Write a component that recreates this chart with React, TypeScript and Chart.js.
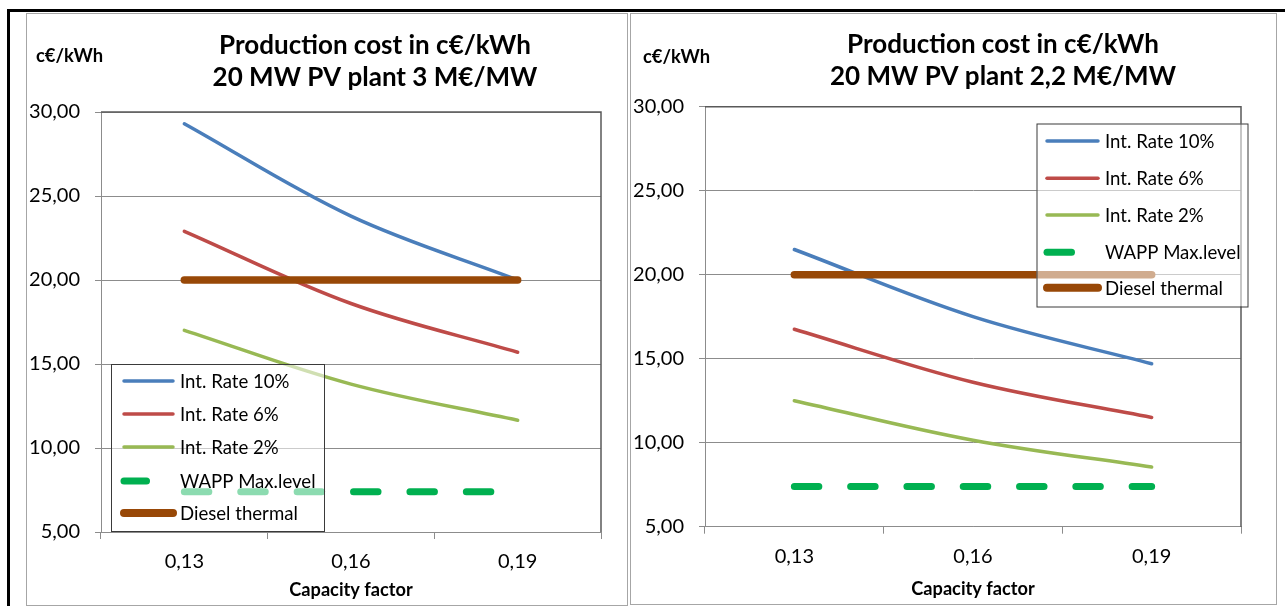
import React, { useEffect, useRef } from 'react';
import { Chart, registerables } from 'chart.js';

Chart.register(...registerables);

const FONT = 'Lato, "Open Sans", "Noto Sans", sans-serif';

// ---------- data ----------
const categories = ['0,13', '0,16', '0,19'];
const seriesNames = ['Int. Rate 10%', 'Int. Rate 6%', 'Int. Rate 2%', 'WAPP Max.level', 'Diesel thermal'];
const seriesColors = ['#4A7EBB', '#BE4B48', '#98B954', '#00B050', '#984807'];
const yTickValues = [5, 10, 15, 20, 25, 30];
const yTickLabels = ['5,00', '10,00', '15,00', '20,00', '25,00', '30,00'];
const xAxisTitle = 'Capacity factor';
const unitLabel = 'c€/kWh';

const leftTitle = ['Production cost in c€/kWh', '20 MW PV plant 3 M€/MW'];
const leftRate10 = [29.3, 23.8, 20.0];
const leftRate6 = [22.9, 18.6, 15.7];
const leftRate2 = [17.0, 13.8, 11.65];
const leftWapp = [7.4, 7.4, 7.4];
const leftDiesel = [20, 20, 20];

const rightTitle = ['Production cost in c€/kWh', '20 MW PV plant 2,2 M€/MW'];
const rightRate10 = [21.5, 17.5, 14.7];
const rightRate6 = [16.75, 13.6, 11.5];
const rightRate2 = [12.5, 10.15, 8.55];
const rightWapp = [7.4, 7.4, 7.4];
const rightDiesel = [20, 20, 20];

// ---------- layout config ----------
type Layout = {
  canvas: { left: number; top: number; width: number; height: number };
  plot: { left: number; top: number; right: number; bottom: number };
  titleX: number;
  titleY: [number, number];
  unitX: number;
  unitY: number;
  legend: { left: number; top: number; right: number; bottom: number; rows: number[]; x1: number; x2: number; wappX2: number; textX: number };
  xTitlePad: number;
  dash: number[];
};

const leftLayout: Layout = {
  canvas: { left: 27, top: 14, width: 600, height: 590 },
  plot: { left: 74, top: 98, right: 574, bottom: 518 },
  titleX: 348,
  titleY: [32, 64],
  unitX: 9,
  unitY: 42,
  legend: { left: 84, top: 350, right: 297, bottom: 517, rows: [367, 400, 433, 467, 499], x1: 97, x2: 146, wappX2: 119.5, textX: 153 },
  xTitlePad: 3,
  dash: [24.5, 31.9],
};

const rightLayout: Layout = {
  canvas: { left: 632, top: 14, width: 643, height: 589 },
  plot: { left: 73, top: 92.7, right: 609, bottom: 512.7 },
  titleX: 371,
  titleY: [31, 63],
  unitX: 11,
  unitY: 43,
  legend: { left: 404.5, top: 109.5, right: 615.5, bottom: 292.5, rows: [127, 164.3, 201, 238.3, 273.7], x1: 415, x2: 466, wappX2: 439.5, textX: 473 },
  xTitlePad: 2.5,
  dash: [24.5, 31.8],
};

function makeChart(canvas: HTMLCanvasElement, L: Layout, title: string[], series: number[][]) {
  const widths = [3.5, 3.5, 3.5, 7, 7.5];
  const datasets = series.map((d, i) => ({
    label: seriesNames[i],
    data: d,
    borderColor: seriesColors[i],
    backgroundColor: seriesColors[i],
    borderWidth: widths[i],
    borderCapStyle: 'round' as const,
    borderJoinStyle: 'round' as const,
    borderDash: i === 3 ? L.dash : [],
    pointRadius: 0,
    pointHoverRadius: 0,
    tension: i < 3 ? 0.35 : 0,
    fill: false,
    order: 4 - i,
  }));

  const decor = {
    id: 'decor',
    afterDatasetsDraw(chart: any) {
      const ctx = chart.ctx as CanvasRenderingContext2D;
      const a = chart.chartArea;
      ctx.save();
      // plot area border (top & right)
      ctx.strokeStyle = '#595959';
      ctx.lineWidth = 1.5;
      ctx.beginPath();
      ctx.moveTo(a.left, a.top);
      ctx.lineTo(a.right, a.top);
      ctx.lineTo(a.right, a.bottom);
      ctx.stroke();

      // legend
      const g = L.legend;
      ctx.fillStyle = 'rgba(255,255,255,0.55)';
      ctx.fillRect(g.left, g.top, g.right - g.left, g.bottom - g.top);
      ctx.strokeStyle = '#3a3a3a';
      ctx.lineWidth = 1;
      ctx.strokeRect(g.left + 0.5, g.top + 0.5, g.right - g.left, g.bottom - g.top);
      ctx.font = `18.6px ${FONT}`;
      ctx.textBaseline = 'middle';
      ctx.textAlign = 'left';
      seriesNames.forEach((name, i) => {
        const y = g.rows[i];
        ctx.beginPath();
        ctx.strokeStyle = seriesColors[i];
        ctx.lineWidth = i === 3 ? 7 : i === 4 ? 8 : 3.5;
        ctx.lineCap = 'round';
        ctx.moveTo(g.x1, y);
        ctx.lineTo(i === 3 ? g.wappX2 : g.x2, y);
        ctx.stroke();
        ctx.fillStyle = '#000';
        ctx.fillText(name, g.textX, y + 1);
      });

      // titles
      ctx.fillStyle = '#000';
      ctx.textAlign = 'center';
      ctx.font = `bold 26px ${FONT}`;
      ctx.fillText(title[0], L.titleX, L.titleY[0]);
      ctx.fillText(title[1], L.titleX, L.titleY[1]);
      ctx.textAlign = 'left';
      ctx.font = `bold 18.4px ${FONT}`;
      ctx.fillText(unitLabel, L.unitX, L.unitY);
      ctx.restore();
    },
  };

  const xh = L.canvas.height - L.plot.bottom;
  return new Chart(canvas, {
    type: 'line',
    data: { labels: categories, datasets },
    plugins: [decor],
    options: {
      responsive: false,
      animation: false,
      events: [],
      layout: { padding: { left: 0, top: L.plot.top, right: L.canvas.width - L.plot.right, bottom: 0 } },
      plugins: { legend: { display: false }, tooltip: { enabled: false }, title: { display: false } },
      scales: {
        x: {
          type: 'category',
          offset: true,
          grid: { display: true, drawOnChartArea: false, drawTicks: true, tickLength: 7, offset: true, color: '#8c8c8c' },
          border: { color: '#8c8c8c', width: 1 },
          ticks: { padding: 11, color: '#000', font: { family: FONT, size: 20 }, maxRotation: 0, autoSkip: false },
          title: { display: true, text: xAxisTitle, color: '#000', font: { family: FONT, size: 18.2, weight: 'bold' }, padding: { top: 0, bottom: L.xTitlePad } },
          afterFit: (s: any) => { s.height = xh; s.paddingLeft = 0; s.paddingRight = 0; },
        },
        y: {
          min: 5,
          max: 30,
          afterBuildTicks: (s: any) => { s.ticks = yTickValues.map((v) => ({ value: v })); },
          ticks: {
            padding: 15,
            color: '#000',
            font: { family: FONT, size: 20 },
            callback: (v: any) => yTickLabels[yTickValues.indexOf(Number(v))] ?? '',
          },
          grid: { color: '#8c8c8c', tickLength: 6, lineWidth: 1 },
          border: { color: '#8c8c8c', width: 1 },
          afterFit: (s: any) => { s.width = L.plot.left; s.paddingTop = 0; s.paddingBottom = 0; },
        },
      },
    },
  } as any);
}

function ChartCanvas({ L, title, series }: { L: Layout; title: string[]; series: number[][] }) {
  const ref = useRef<HTMLCanvasElement | null>(null);
  useEffect(() => {
    if (!ref.current) return;
    const c = makeChart(ref.current, L, title, series);
    return () => c.destroy();
  }, []);
  return (
    <canvas
      ref={ref}
      width={L.canvas.width}
      height={L.canvas.height}
      style={{ position: 'absolute', left: L.canvas.left, top: L.canvas.top, width: L.canvas.width, height: L.canvas.height }}
    />
  );
}

export default function App() {
  return (
    <div style={{ position: 'fixed', left: 0, top: 0, width: 1285, height: 606, background: '#fff', overflow: 'hidden', fontFamily: FONT }}>
      <div style={{ position: 'absolute', left: 7, top: 9, width: 1278, height: 3, background: '#000' }} />
      <div style={{ position: 'absolute', left: 7, top: 9, width: 3, height: 597, background: '#000' }} />
      <div style={{ position: 'absolute', left: 26, top: 13, width: 602, height: 593, border: '1px solid #a6a6a6', boxSizing: 'border-box' }} />
      <div style={{ position: 'absolute', left: 630, top: 13, width: 647, height: 592, border: '1px solid #a6a6a6', boxSizing: 'border-box' }} />
      <ChartCanvas L={leftLayout} title={leftTitle} series={[leftRate10, leftRate6, leftRate2, leftWapp, leftDiesel]} />
      <ChartCanvas L={rightLayout} title={rightTitle} series={[rightRate10, rightRate6, rightRate2, rightWapp, rightDiesel]} />
    </div>
  );
}
